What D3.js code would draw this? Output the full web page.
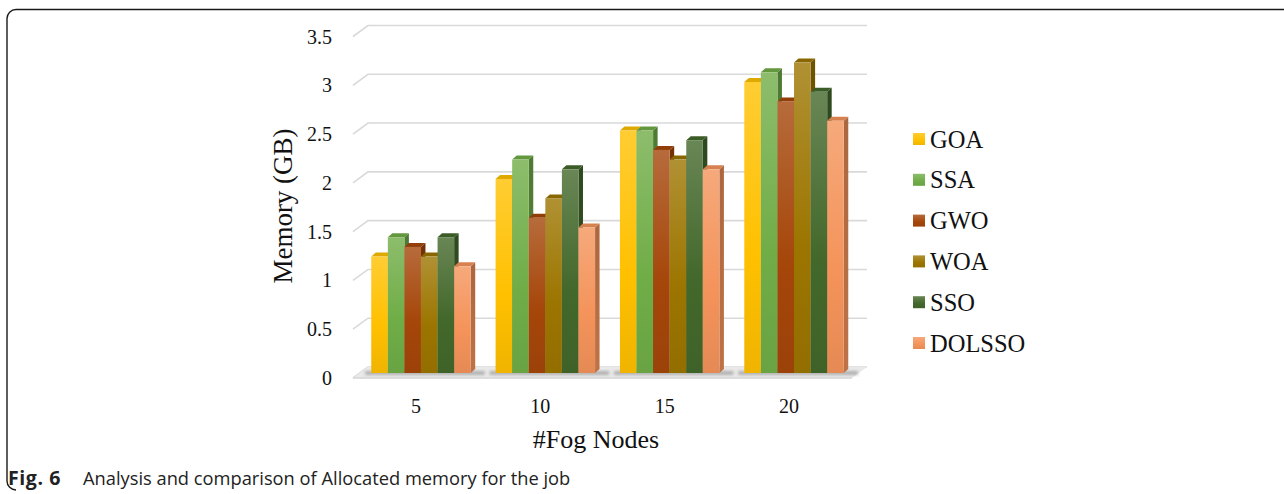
<!DOCTYPE html>
<html>
<head>
<meta charset="utf-8">
<script src="https://cdn.jsdelivr.net/npm/d3@7"></script>
<style>
  html, body { margin: 0; padding: 0; background: #ffffff; }
  svg { display: block; }
</style>
</head>
<body>
<svg id="chart" width="1284" height="494"></svg>
<script>
// Allocated memory (GB) per fog-node count, one array per algorithm
const categories = ["5", "10", "15", "20"];
const seriesNames = ["GOA", "SSA", "GWO", "WOA", "SSO", "DOLSSO"];
const goa    = [1.2, 2.0, 2.5, 3.0];
const ssa    = [1.4, 2.2, 2.5, 3.1];
const gwo    = [1.3, 1.6, 2.3, 2.8];
const woa    = [1.2, 1.8, 2.2, 3.2];
const sso    = [1.4, 2.1, 2.4, 2.9];
const dolsso = [1.1, 1.5, 2.1, 2.6];
const yTicks = [0, 0.5, 1, 1.5, 2, 2.5, 3, 3.5];
const yTickLabels = ["0", "0.5", "1", "1.5", "2", "2.5", "3", "3.5"];
const seriesColors = ["#FFC000", "#70AD47", "#A5460A", "#9C7500", "#43682B", "#F4935A"];

const seriesValues = [goa, ssa, gwo, woa, sso, dolsso];

const svg = d3.select("#chart");
const serif = "'Liberation Serif', 'Times New Roman', serif";
const sans = "'Open Sans', 'Noto Sans', sans-serif";

// Figure frame (open at the bottom-right)
svg.append("path")
  .attr("d", "M1284,9.5 H16 A9,9 0 0 0 7,18.5 V481 A9,9 0 0 0 16,490")
  .attr("fill", "none").attr("stroke", "#1a1a1a").attr("stroke-width", 1.4);

// Scales: bar faces, back wall and the projected floor offset
const yBar  = d3.scaleLinear().domain([0, 3.5]).range([373, 373 - 97 * 3.5]);
const yBack = d3.scaleLinear().domain([0, 3.5]).range([367, 25.5]);
const wallLeft = 368, wallRight = 867, frontDx = -15, frontDy = 11;
const x0 = d3.scaleBand().domain(categories).range([358.8, 856.2])
  .paddingInner(0.2).paddingOuter(0.1);
const x1 = d3.scaleBand().domain(seriesNames).range([0, x0.bandwidth()]);
const depthX = 4.5, depthY = -4;

const defs = svg.append("defs");
const mix = (c, other, t) => d3.interpolateRgb(c, other)(t);

seriesColors.forEach((c, i) => {
  const g = defs.append("linearGradient").attr("id", "front" + i)
    .attr("x1", 0).attr("y1", 0).attr("x2", 0).attr("y2", 1);
  g.append("stop").attr("offset", "0%").attr("stop-color", mix(c, "#ffffff", 0.2));
  g.append("stop").attr("offset", "60%").attr("stop-color", c);
  g.append("stop").attr("offset", "100%").attr("stop-color", mix(c, "#000000", 0.06));
  const s = defs.append("linearGradient").attr("id", "side" + i)
    .attr("x1", 0).attr("y1", 0).attr("x2", 0).attr("y2", 1);
  s.append("stop").attr("offset", "0%").attr("stop-color", mix(c, "#000000", 0.3));
  s.append("stop").attr("offset", "100%").attr("stop-color", mix(c, "#000000", 0.22));
});

const blur = defs.append("filter").attr("id", "soft")
  .attr("x", "-20%").attr("y", "-50%").attr("width", "140%").attr("height", "200%");
blur.append("feGaussianBlur").attr("stdDeviation", 1.6);

// Gridlines: back wall plus the short receding segment on the left wall
const grid = svg.append("g");
yTicks.forEach(t => {
  const yb = yBack(t);
  grid.append("path")
    .attr("d", `M${wallLeft + frontDx},${yb + frontDy} L${wallLeft},${yb} H${wallRight}`)
    .attr("fill", "none").attr("stroke", "#d9d9d9").attr("stroke-width", 1.6);
});

// Floor
const floorY = yBack(0);
svg.append("path")
  .attr("d", `M${wallLeft},${floorY} H${wallRight} L${wallRight + frontDx},${floorY + frontDy} H${wallLeft + frontDx} Z`)
  .attr("fill", "#e9e9e9");
svg.append("path")
  .attr("d", `M${wallLeft + frontDx},${floorY + frontDy} H${wallRight + frontDx}`)
  .attr("stroke", "#d4d4d4").attr("stroke-width", 1.5);

// Soft shadows the columns cast on the floor
categories.forEach(cat => {
  const gx = x0(cat);
  svg.append("rect")
    .attr("x", gx - 6).attr("y", yBar(0) - 2)
    .attr("width", x0.bandwidth() + 20).attr("height", 4)
    .attr("fill", "#8a8a8a").attr("opacity", 0.6).attr("filter", "url(#soft)");
});

// Columns: front face, right side and top
const bars = svg.append("g");
categories.forEach((cat, ci) => {
  seriesNames.forEach((name, si) => {
    const v = seriesValues[si][ci];
    const x = x0(cat) + x1(name);
    const w = x1.bandwidth();
    const yt = yBar(v), yb = yBar(0);
    const c = seriesColors[si];
    bars.append("path")
      .attr("d", `M${x + w},${yt} L${x + w + depthX},${yt + depthY} V${yb + depthY} L${x + w},${yb} Z`)
      .attr("fill", `url(#side${si})`);
    bars.append("path")
      .attr("d", `M${x},${yt} L${x + depthX},${yt + depthY} H${x + w + depthX} L${x + w},${yt} Z`)
      .attr("fill", mix(c, "#000000", 0.12));
    bars.append("rect")
      .attr("x", x).attr("y", yt).attr("width", w).attr("height", yb - yt)
      .attr("fill", `url(#front${si})`);
  });
});

// Value axis labels
svg.append("g").selectAll("text").data(yTicks).join("text")
  .attr("x", 332).attr("y", d => yBack(d) + frontDy)
  .attr("dy", "0.35em").attr("text-anchor", "end")
  .attr("font-family", serif).attr("font-size", 20).attr("fill", "#111")
  .text((d, i) => yTickLabels[i]);

// Category labels
svg.append("g").selectAll("text").data(categories).join("text")
  .attr("x", d => x0(d) + x0.bandwidth() / 2 - 5).attr("y", 413)
  .attr("text-anchor", "middle")
  .attr("font-family", serif).attr("font-size", 20).attr("fill", "#111")
  .text(d => d);

// Axis titles
svg.append("text")
  .attr("transform", "translate(292,206) rotate(-90)")
  .attr("text-anchor", "middle")
  .attr("font-family", serif).attr("font-size", 27).attr("fill", "#111")
  .text("Memory (GB)");
svg.append("text")
  .attr("x", 596).attr("y", 448).attr("text-anchor", "middle")
  .attr("font-family", serif).attr("font-size", 26).attr("fill", "#111")
  .text("#Fog Nodes");

// Legend
const legend = svg.append("g");
seriesNames.forEach((name, i) => {
  const cy = 139 + i * 40.8;
  legend.append("rect")
    .attr("x", 913).attr("y", cy - 6).attr("width", 12).attr("height", 12)
    .attr("fill", `url(#front${i})`);
  legend.append("text")
    .attr("x", 930).attr("y", cy).attr("dy", "0.35em")
    .attr("font-family", serif).attr("font-size", 24.5).attr("fill", "#111")
    .text(name);
});

// Caption
svg.append("text")
  .attr("x", 8).attr("y", 485)
  .attr("font-family", sans).attr("font-size", 19.5).attr("font-weight", "bold")
  .attr("letter-spacing", 0.6).attr("fill", "#222")
  .text("Fig. 6");
svg.append("text")
  .attr("x", 83).attr("y", 485)
  .attr("font-family", sans).attr("font-size", 18.3).attr("fill", "#222")
  .text("Analysis and comparison of Allocated memory for the job");
</script>
</body>
</html>
